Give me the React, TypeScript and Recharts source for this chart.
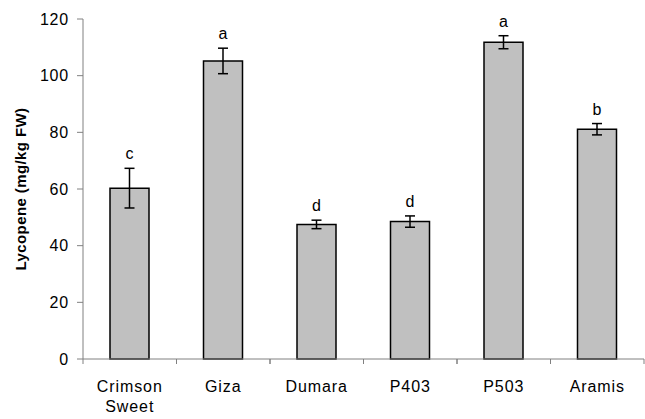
import React from 'react';
import { BarChart, Bar, XAxis, YAxis, ErrorBar, LabelList } from 'recharts';

const categories = ['Crimson Sweet', 'Giza', 'Dumara', 'P403', 'P503', 'Aramis'];
const lycopene = [60.3, 105.2, 47.5, 48.5, 111.8, 81.1];
const errors = [7.0, 4.5, 1.5, 2.0, 2.3, 2.0];
const letters = ['c', 'a', 'd', 'd', 'a', 'b'];
const yTicks = [0, 20, 40, 60, 80, 100, 120];

const data = categories.map((c, i) => ({
  name: c,
  value: lycopene[i],
  err: errors[i],
  letter: letters[i],
}));

const FONT = '"Liberation Sans", Arial, sans-serif';
const AXIS = '#808080';
const HALF_BAND = 46.75;

const XTick = (props: any) => {
  const { x, y, payload } = props;
  const lines = String(payload.value).split(' ');
  return (
    <g>
      <line x1={x - HALF_BAND} y1={y - 8} x2={x - HALF_BAND} y2={y - 3} stroke={AXIS} strokeWidth={1} />
      <line x1={x + HALF_BAND} y1={y - 8} x2={x + HALF_BAND} y2={y - 3} stroke={AXIS} strokeWidth={1} />
      <text x={x} y={y + 25} textAnchor="middle" fontSize={16} letterSpacing={0.9} fontFamily={FONT} fill="#000">
        {lines.map((l, i) => (
          <tspan key={i} x={x} dy={i === 0 ? 0 : 20}>{l}</tspan>
        ))}
      </text>
    </g>
  );
};

const LetterLabel = (props: any) => {
  const { x, y, width, height, value, index } = props;
  const v = lycopene[index];
  const errPx = (errors[index] * height) / v;
  return (
    <text x={x + width / 2} y={y - errPx - 9} textAnchor="middle" fontSize={16} fontFamily={FONT} fill="#000">
      {value}
    </text>
  );
};

export default function App() {
  return (
    <div style={{ position: 'absolute', left: 0, top: 0, width: 645, height: 419, background: '#fff' }}>
      <BarChart
        width={645}
        height={419}
        data={data}
        margin={{ top: 19, right: 1, bottom: 0, left: 0 }}
        barSize={39}
      >
        <XAxis
          dataKey="name"
          axisLine={{ stroke: AXIS, strokeWidth: 1 }}
          tickLine={false}
          tick={<XTick />}
          interval={0}
          height={60}
        />
        <YAxis
          width={83}
          domain={[0, 120]}
          ticks={yTicks}
          interval={0}
          axisLine={{ stroke: AXIS, strokeWidth: 1 }}
          tickLine={{ stroke: AXIS, strokeWidth: 1 }}
          tickSize={6}
          tickMargin={8}
          tick={{ fontSize: 16, letterSpacing: 0.8, fontFamily: FONT, fill: '#000' }}
          label={{
            value: 'Lycopene (mg/kg FW)',
            angle: -90,
            position: 'center',
            dx: -21,
            style: { fontSize: 15, letterSpacing: 0.4, fontWeight: 'bold', fontFamily: FONT, fill: '#000', textAnchor: 'middle' },
          }}
        />
        <Bar dataKey="value" fill="#C0C0C0" stroke="#000" strokeWidth={1.5} isAnimationActive={false}>
          <ErrorBar dataKey="err" width={5} stroke="#000" strokeWidth={1.5} />
          <LabelList dataKey="letter" content={<LetterLabel />} />
        </Bar>
      </BarChart>
    </div>
  );
}
